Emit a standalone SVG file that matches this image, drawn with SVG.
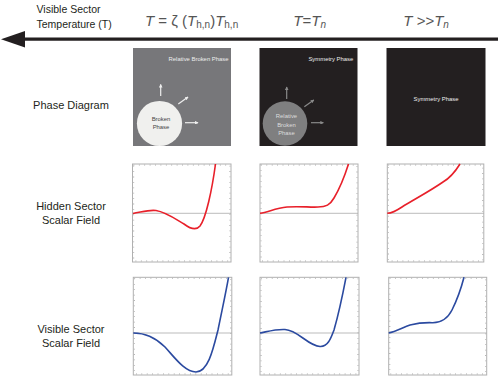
<svg xmlns="http://www.w3.org/2000/svg" width="498" height="382" viewBox="0 0 498 382">
<style>
.lbl{font-family:"Liberation Sans",Arial,sans-serif;font-size:11px;fill:#231f20;text-anchor:middle}
.top{font-family:"Liberation Sans",Arial,sans-serif;font-size:10.5px;fill:#231f20}
.f{font-family:"Liberation Sans",Arial,sans-serif;font-size:15px;fill:#555}
.it{font-style:italic}
.sub{font-size:10px}
.small{font-family:"Liberation Sans",Arial,sans-serif;font-size:5.9px}
.frame{fill:#fff;stroke:#b0b0b0;stroke-width:1}
.ticks{fill:none;stroke:#b8b8b8;stroke-width:1.4;stroke-dasharray:0.8 4.6}
.axis{stroke:#aaa;stroke-width:0.8}
.red{fill:none;stroke:#e8202a;stroke-width:1.6}
.blue{fill:none;stroke:#2b4aa0;stroke-width:1.6}
</style>
<defs>
<marker id="ahL" viewBox="0 0 6 6" refX="5" refY="3" markerWidth="3" markerHeight="3" orient="auto"><path d="M0,0 L6,3 L0,6 z" fill="#eee"/></marker>
<marker id="ahD" viewBox="0 0 6 6" refX="5" refY="3" markerWidth="3" markerHeight="3" orient="auto"><path d="M0,0 L6,3 L0,6 z" fill="#8a8a8a"/></marker>
</defs>

<g id="header">
<text class="top" x="36.5" y="12.7">Visible Sector</text>
<text class="top" x="36.5" y="28.3">Temperature (T)</text>
<text class="f" x="145" y="25.5"><tspan class="it">T</tspan> = ζ (<tspan class="it">T</tspan><tspan class="sub" dy="2">h,n</tspan><tspan dy="-2">)</tspan><tspan class="it">T</tspan><tspan class="sub" dy="2">h,n</tspan></text>
<text class="f" x="293.3" y="25.5"><tspan class="it">T</tspan>=<tspan class="it">T</tspan><tspan class="sub it" dy="2">n</tspan></text>
<text class="f" x="403.3" y="25.5"><tspan class="it">T</tspan> &gt;&gt;<tspan class="it">T</tspan><tspan class="sub it" dy="2">n</tspan></text>
</g>

<g id="connectors">
<line x1="22" y1="39.2" x2="498" y2="39.2" stroke="#231f20" stroke-width="3.2"/>
<path d="M1,39.2 L25,31 L25,47.4 z" fill="#231f20"/>
</g>

<g id="row-labels">
<text class="lbl" x="71" y="109.3">Phase Diagram</text>
<text class="lbl" x="71" y="210">Hidden Sector</text>
<text class="lbl" x="71" y="224">Scalar Field</text>
<text class="lbl" x="71" y="332.7">Visible Sector</text>
<text class="lbl" x="71" y="346.7">Scalar Field</text>
</g>

<g id="phase1">
<rect x="133" y="48" width="98" height="98" fill="#77777a"/>
<text class="small" x="228.5" y="60.7" fill="#eee" text-anchor="end">Relative Broken Phase</text>
<circle cx="159.5" cy="123.5" r="22.6" fill="#f0f0ee"/>
<text class="small" x="161" y="121.3" fill="#444" text-anchor="middle">Broken</text>
<text class="small" x="161" y="129.3" fill="#444" text-anchor="middle">Phase</text>
<g stroke="#eee" stroke-width="1.2" marker-end="url(#ahL)">
<line x1="160.7" y1="96" x2="160.7" y2="84.5"/>
<line x1="178.3" y1="104" x2="188" y2="97"/>
<line x1="185" y1="122.7" x2="198" y2="122.7"/>
</g>
</g>

<g id="phase2">
<rect x="259.5" y="48" width="98" height="98" fill="#231f20"/>
<text class="small" x="353.3" y="61.3" fill="#eee" text-anchor="end">Symmetry Phase</text>
<circle cx="285" cy="123.5" r="22.3" fill="#7f7f80"/>
<text class="small" x="286.5" y="118" fill="#ddd" text-anchor="middle">Relative</text>
<text class="small" x="286.5" y="126.7" fill="#ddd" text-anchor="middle">Broken</text>
<text class="small" x="286.5" y="134.7" fill="#ddd" text-anchor="middle">Phase</text>
<g stroke="#8a8a8a" stroke-width="1.2" marker-end="url(#ahD)">
<line x1="286.7" y1="99" x2="286.7" y2="87"/>
<line x1="304.3" y1="106.7" x2="313.8" y2="100"/>
<line x1="311" y1="122.7" x2="323.3" y2="122.7"/>
</g>
</g>

<g id="phase3">
<rect x="386.5" y="48" width="99" height="98" fill="#231f20"/>
<text class="small" x="436" y="100.7" fill="#eee" text-anchor="middle">Symmetry Phase</text>
</g>

<g id="hidden1">
<rect class="frame" x="132.5" y="164" width="98.5" height="98"/>
<rect class="ticks" x="133.5" y="165" width="96.5" height="96"/>
<line class="axis" x1="132.5" y1="213.3" x2="231" y2="213.3"/>
<path class="red" d="M133,213.5 C142,212 149,209.5 156,210.5 C166,212 177,220 184,224 C190,228.5 196,231 200,226 C206,218 212,190 215.5,164"/>
</g>

<g id="hidden2">
<rect class="frame" x="260" y="164" width="98" height="98"/>
<rect class="ticks" x="261" y="165" width="96" height="96"/>
<line class="axis" x1="260" y1="213.3" x2="358" y2="213.3"/>
<path class="red" d="M260,213.3 C268,212.5 275,208 287,207 C300,206 310,207.5 318,207 C326,207 330,205 334,198 C340,188 345,175 348.5,164"/>
</g>

<g id="hidden3">
<rect class="frame" x="387.3" y="164" width="96.5" height="98"/>
<rect class="ticks" x="388.3" y="165" width="94.5" height="96"/>
<line class="axis" x1="387.3" y1="213.3" x2="483.8" y2="213.3"/>
<path class="red" d="M387.3,213.3 C392,213 396,211 402,207 C415,199 430,191 443,182 C450,178 455,172 460,164"/>
</g>

<g id="visible1">
<rect class="frame" x="133.3" y="277.3" width="98.5" height="97.7"/>
<rect class="ticks" x="134.3" y="278.3" width="96.5" height="95.7"/>
<line class="axis" x1="133.3" y1="333" x2="231.8" y2="333"/>
<path class="blue" d="M133.3,333 C145,333 155,337 165,347 C175,358 185,372 196,372 C208,372 213,350 218,330 C222,310 226,292 228.5,277.3"/>
</g>

<g id="visible2">
<rect class="frame" x="260" y="277.3" width="99" height="97.7"/>
<rect class="ticks" x="261" y="278.3" width="97" height="95.7"/>
<line class="axis" x1="260" y1="333" x2="359" y2="333"/>
<path class="blue" d="M260,333 C266,332 275,329 285,329.5 C298,330 308,346 320,346.5 C328,347 331,338 334,330 C338,316 343,293 346,277.3"/>
</g>

<g id="visible3">
<rect class="frame" x="388.7" y="277.3" width="98" height="97.7"/>
<rect class="ticks" x="389.7" y="278.3" width="96" height="95.7"/>
<line class="axis" x1="388.7" y1="333" x2="486.7" y2="333"/>
<path class="blue" d="M388.7,333 C395,332 402,328 410,325 C418,323 425,322.5 432,322.7 C442,323 448,318 452,310 C457,300 461,289 464,277.3"/>
</g>
</svg>
